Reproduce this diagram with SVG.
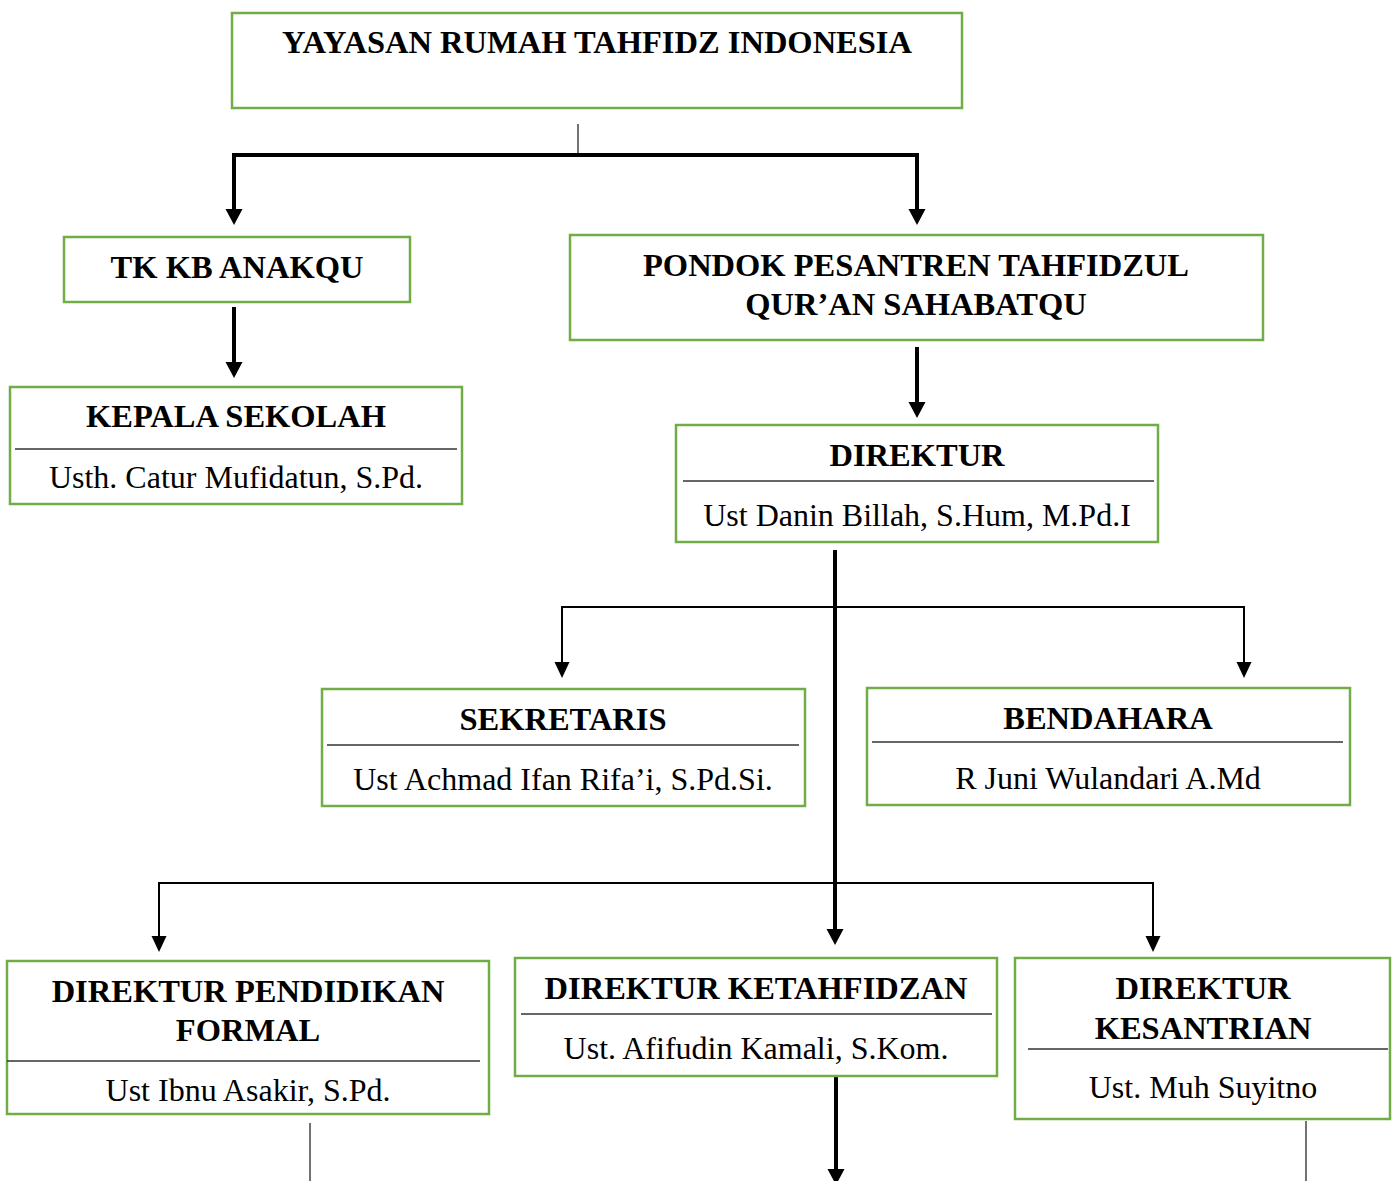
<svg xmlns="http://www.w3.org/2000/svg" width="1398" height="1181" viewBox="0 0 1398 1181">
<defs>
<style>
.box{fill:#fff;stroke:#70AD47;stroke-width:2.5}
.div{stroke:#333;stroke-width:1.5}
.t{font-family:"Liberation Serif","Times New Roman",serif;font-size:32.5px;font-weight:bold;fill:#000;text-anchor:middle}
.n{font-family:"Liberation Serif","Times New Roman",serif;font-size:32px;fill:#000;text-anchor:middle}
.thick{stroke:#000;stroke-width:4;fill:none}
.thin{stroke:#000;stroke-width:2;fill:none}
.hair{stroke:#444;stroke-width:1.5;fill:none}
</style>
<marker id="ah" markerUnits="userSpaceOnUse" markerWidth="17" markerHeight="17" refX="0" refY="8" orient="auto" viewBox="0 0 16 16" overflow="visible">
<path d="M0,0 L15,8 L0,16 Z" fill="#000"/>
</marker>
<marker id="ahs" markerUnits="userSpaceOnUse" markerWidth="15" markerHeight="15" refX="0" refY="7" orient="auto" viewBox="0 0 14 14" overflow="visible">
<path d="M0,0 L15,7 L0,14 Z" fill="#000"/>
</marker>
</defs>

<g id="connectors">
<line class="hair" x1="578" y1="124" x2="578" y2="154"/>
<polyline class="thick" points="234,209 234,155 917,155 917,209"/>
<line class="thick" x1="234" y1="180" x2="234" y2="209" marker-end="url(#ah)"/>
<line class="thick" x1="917" y1="180" x2="917" y2="209" marker-end="url(#ah)"/>
<line class="thick" x1="234" y1="307" x2="234" y2="362" marker-end="url(#ah)"/>
<line class="thick" x1="917" y1="347" x2="917" y2="402" marker-end="url(#ah)"/>
<line class="thick" x1="835" y1="550" x2="835" y2="929" marker-end="url(#ah)"/>
<polyline class="thin" points="562,662 562,607 1244,607 1244,662"/>
<line class="thin" x1="562" y1="640" x2="562" y2="662" marker-end="url(#ahs)"/>
<line class="thin" x1="1244" y1="640" x2="1244" y2="662" marker-end="url(#ahs)"/>
<polyline class="thin" points="159,936 159,883 1153,883 1153,936"/>
<line class="thin" x1="159" y1="910" x2="159" y2="936" marker-end="url(#ahs)"/>
<line class="thin" x1="1153" y1="910" x2="1153" y2="936" marker-end="url(#ahs)"/>
<line class="hair" x1="310" y1="1123" x2="310" y2="1181"/>
<line class="hair" x1="1306" y1="1121" x2="1306" y2="1181"/>
<line class="thick" x1="836" y1="1075" x2="836" y2="1169" marker-end="url(#ah)"/>
</g>

<g id="yayasan">
<rect class="box" x="232" y="13" width="730" height="95"/>
<text class="t" x="597" y="53">YAYASAN RUMAH TAHFIDZ INDONESIA</text>
</g>

<g id="tkkb">
<rect class="box" x="64" y="237" width="346" height="65"/>
<text class="t" x="237" y="278">TK KB ANAKQU</text>
</g>

<g id="kepala-sekolah">
<rect class="box" x="10" y="387" width="452" height="117"/>
<text class="t" x="236" y="427">KEPALA SEKOLAH</text>
<line class="div" x1="15" y1="449" x2="457" y2="449"/>
<text class="n" x="236" y="488">Usth. Catur Mufidatun, S.Pd.</text>
</g>

<g id="pondok">
<rect class="box" x="570" y="235" width="693" height="105"/>
<text class="t" x="916" y="276">PONDOK PESANTREN TAHFIDZUL</text>
<text class="t" x="916" y="315">QUR’AN SAHABATQU</text>
</g>

<g id="direktur">
<rect class="box" x="676" y="425" width="482" height="117"/>
<text class="t" x="917" y="466">DIREKTUR</text>
<line class="div" x1="683" y1="481" x2="1154" y2="481"/>
<text class="n" x="917" y="526">Ust Danin Billah, S.Hum, M.Pd.I</text>
</g>

<g id="sekretaris">
<rect class="box" x="322" y="689" width="483" height="117"/>
<text class="t" x="563" y="730">SEKRETARIS</text>
<line class="div" x1="327" y1="745" x2="799" y2="745"/>
<text class="n" x="563" y="790">Ust Achmad Ifan Rifa’i, S.Pd.Si.</text>
</g>

<g id="bendahara">
<rect class="box" x="867" y="688" width="483" height="117"/>
<text class="t" x="1108" y="729">BENDAHARA</text>
<line class="div" x1="872" y1="742" x2="1343" y2="742"/>
<text class="n" x="1108" y="789">R Juni Wulandari A.Md</text>
</g>

<g id="dir-pendidikan">
<rect class="box" x="7" y="961" width="482" height="153"/>
<text class="t" x="248" y="1002">DIREKTUR PENDIDIKAN</text>
<text class="t" x="248" y="1041">FORMAL</text>
<line class="div" x1="7" y1="1061" x2="480" y2="1061"/>
<text class="n" x="248" y="1101">Ust Ibnu Asakir, S.Pd.</text>
</g>

<g id="dir-ketahfidzan">
<rect class="box" x="515" y="958" width="482" height="118"/>
<text class="t" x="756" y="999">DIREKTUR KETAHFIDZAN</text>
<line class="div" x1="521" y1="1014" x2="992" y2="1014"/>
<text class="n" x="756" y="1059">Ust. Afifudin Kamali, S.Kom.</text>
</g>

<g id="dir-kesantrian">
<rect class="box" x="1015" y="958" width="375" height="161"/>
<text class="t" x="1203" y="999">DIREKTUR</text>
<text class="t" x="1203" y="1039">KESANTRIAN</text>
<line class="div" x1="1028" y1="1049" x2="1388" y2="1049"/>
<text class="n" x="1203" y="1098">Ust. Muh Suyitno</text>
</g>
</svg>
